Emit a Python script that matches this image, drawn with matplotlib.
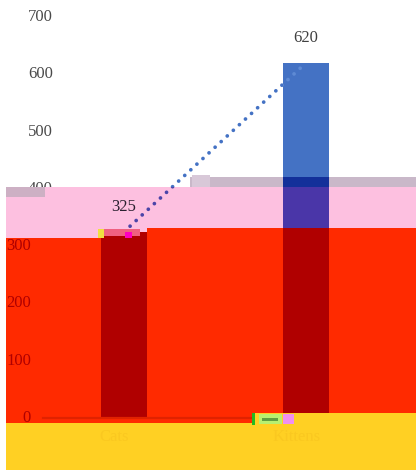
import matplotlib
matplotlib.use('Agg')
import matplotlib.pyplot as plt
from matplotlib.patches import Rectangle

# ---- data ----
categories = ['Cats', 'Kittens']
values = [325, 620]
yticks = [0, 100, 200, 300, 400, 500, 600, 700]

# ---- layout (pixels) ----
W, H, DPI = 416, 470, 100
X0PX, XSTEP = 124, 182
Y0PX, YPX = 418, 401 / 700

def px_x(p):
    return (p - X0PX) / XSTEP

def px_y(p):
    return (Y0PX - p) / YPX

SERIF = ['Liberation Serif', 'DejaVu Serif']
fig = plt.figure(figsize=(W / DPI, H / DPI), dpi=DPI)
fig.patch.set_facecolor('white')
ax = fig.add_axes([0, 0, 1, 1])
ax.set_xlim(px_x(0), px_x(W))
ax.set_ylim(px_y(H), px_y(0))
for s in ax.spines.values():
    s.set_visible(False)
ax.set_xticks([])
ax.set_yticks([])

x = list(range(len(categories)))
BAR_W = 46 / XSTEP
blue = '#4472c4'
LINE_KW = dict(lw=2.7, linestyle=(0, (0.01, 2.2)), dash_capstyle='round')

bars = ax.bar(x, values, width=BAR_W, color=blue, zorder=2)
ax.plot(x, values, color=blue, zorder=3, **LINE_KW)
# dots slightly lighter where they cross the bars
for b in bars:
    ln, = ax.plot(x, values, color='#5e8ad4', zorder=3.5, **LINE_KW)
    ln.set_clip_path(b)

# tick labels in the upper (unshifted) part
for v in yticks:
    if v >= 400:
        ax.text(53 / W, v, str(v), transform=ax.get_yaxis_transform(), ha='right',
                va='center', fontsize=12, family=SERIF, color='#4a4a4a', zorder=3)

# ---- overlay bands ----
def band(x0, x1, y0, y1, color, z=4):
    r = Rectangle((px_x(x0), px_y(y1)), px_x(x1) - px_x(x0), px_y(y0) - px_y(y1),
                  facecolor=color, edgecolor='none', zorder=z)
    ax.add_patch(r)
    return r

def tint(r, bar_c, line_c=None):
    for b in ax.bar(x, values, width=BAR_W, color=bar_c, zorder=5):
        b.set_clip_path(r)
    if line_c:
        ln, = ax.plot(x, values, color=line_c, zorder=6, **LINE_KW)
        ln.set_clip_path(r)

g = band(190, 416, 177, 187, '#c9b8c9')
tint(g, '#13309a', '#5a5aa8')
for r in (band(147, 416, 187, 228, '#fdc0e0'),
          band(6, 98, 187, 238, '#fdc0e0'),
          band(98, 147, 187, 232, '#fdc0e0')):
    tint(r, '#4a36a8', '#4b44a8')
for r in (band(252, 416, 228, 413, '#ff2a00'),
          band(147, 252, 228, 423, '#ff2a00'),
          band(6, 98, 238, 423, '#ff2a00'),
          band(98, 147, 232, 423, '#ff2a00')):
    tint(r, '#b00000')
band(6, 252, 423, 470, '#ffd023')
band(252, 416, 413, 470, '#ffd023')

# baseline inside red band
ax.plot([px_x(43), px_x(252)], [0, 0], color='#e02200', lw=1.6, zorder=6)

# shifted tick labels inside red band
for v in yticks:
    if v <= 300:
        ax.text(31 / W, v, str(v), transform=ax.get_yaxis_transform(), ha='right',
                va='center', fontsize=12, family=SERIF, color='#b00000', zorder=7)

# garbled bits
band(6, 45, 187, 197, '#cdb0c4', z=7)
band(98, 104, 229, 238, '#f0e040', z=7)
band(104, 140, 229, 236, '#f06080', z=7)
band(125, 132, 232, 238, '#ff00c0', z=7)
band(192, 210, 175, 187, '#d8c8d8', z=7)
band(252, 255, 413, 425, '#22bb22', z=9)
band(259, 282, 414, 424, '#b8f070', z=9)
band(262, 278, 418, 421, '#60a040', z=9)
band(283, 294, 414, 424, '#f090f0', z=9)

# data labels
for xi, v in zip(x, values):
    c = '#2a2030' if v < 400 else '#404040'
    ax.annotate(str(v), (xi, v), xytext=(0, 17.6), textcoords='offset points',
                ha='center', va='center', fontsize=12, family=SERIF, color=c, zorder=8)

# category labels (nearly invisible on yellow)
for xi, cat in zip(x, categories):
    ax.annotate(cat, (xi, 0), xytext=(-7, -14), textcoords='offset points',
                ha='center', va='center', fontsize=12, family=SERIF,
                color='#fac820', zorder=8)

fig.savefig('out.png', dpi=DPI, facecolor='white')
